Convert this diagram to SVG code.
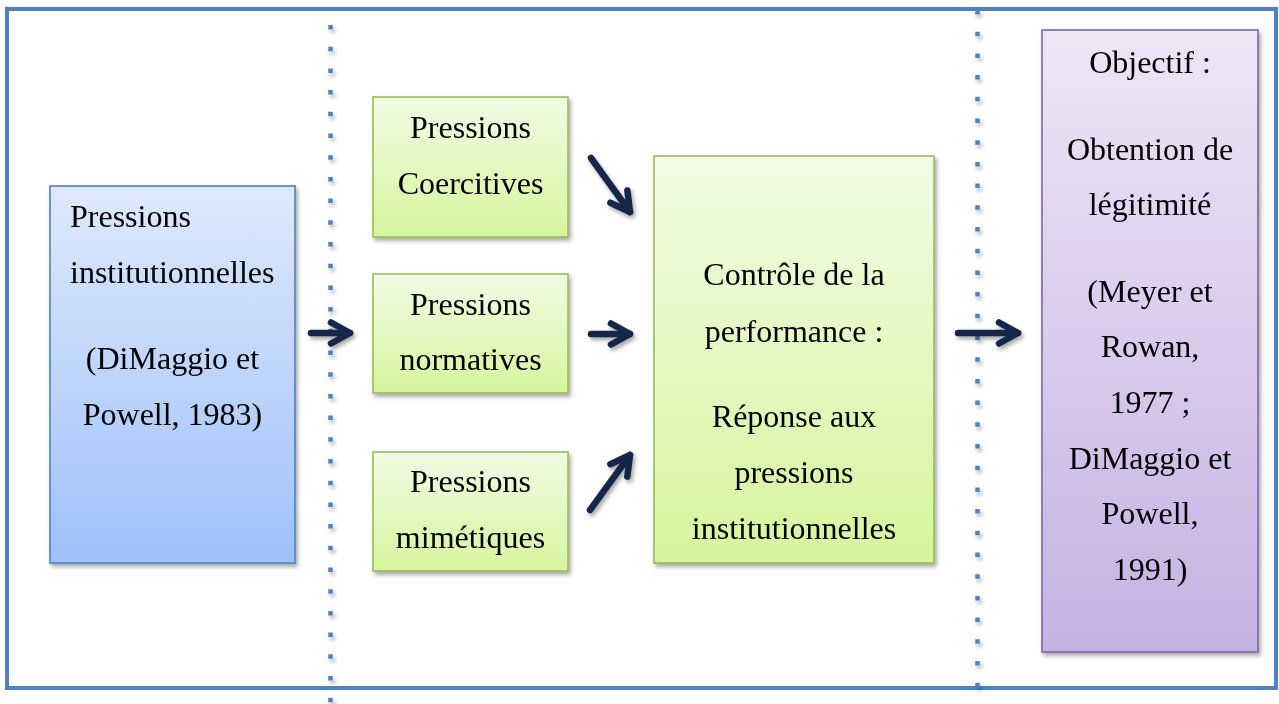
<svg xmlns="http://www.w3.org/2000/svg" width="1279" height="704" viewBox="0 0 1279 704">
<style>
  text { font-family: "Liberation Serif", "Times New Roman", serif; font-size: 32px; fill: #000; }
  .c { text-anchor: middle; }
  .box { stroke-width: 1.6; }
  .arrow { fill: none; stroke: #14284a; stroke-width: 6.5; stroke-linecap: round; stroke-linejoin: round; }
  .dots { fill: none; stroke: #4f81bd; stroke-width: 4.5; stroke-dasharray: 4.5 17.2; }
</style>
<defs>
  <linearGradient id="gBlue" x1="0" y1="0" x2="0" y2="1">
    <stop offset="0" stop-color="#dee9fc"/>
    <stop offset="1" stop-color="#9ec1fa"/>
  </linearGradient>
  <linearGradient id="gGreen" x1="0" y1="0" x2="0" y2="1">
    <stop offset="0" stop-color="#f1fbe4"/>
    <stop offset="1" stop-color="#d6f59d"/>
  </linearGradient>
  <linearGradient id="gPurple" x1="0" y1="0" x2="0" y2="1">
    <stop offset="0" stop-color="#ede6f6"/>
    <stop offset="1" stop-color="#c5b1e3"/>
  </linearGradient>
  <filter id="sh" x="-10%" y="-10%" width="130%" height="130%">
    <feGaussianBlur in="SourceAlpha" stdDeviation="2"/>
    <feOffset dx="2" dy="3" result="b"/>
    <feComponentTransfer><feFuncA type="linear" slope="0.35"/></feComponentTransfer>
    <feMerge><feMergeNode/><feMergeNode in="SourceGraphic"/></feMerge>
  </filter>
  <marker id="head" markerUnits="userSpaceOnUse" markerWidth="60" markerHeight="60" viewBox="-30 -30 60 60" refX="0" refY="0" orient="auto" overflow="visible">
    <path d="M-19,-10.5 L0,0 L-19,10.5" fill="none" stroke="#14284a" stroke-width="6.5" stroke-linecap="round" stroke-linejoin="round"/>
  </marker>
</defs>

<g id="frame">
  <rect x="7" y="9" width="1269" height="679" fill="#fff" stroke="#4f81bd" stroke-width="4"/>
</g>

<g id="separators" filter="url(#sh)">
  <line class="dots" x1="330.5" y1="25" x2="330.5" y2="704"/>
  <line class="dots" x1="977.5" y1="10" x2="977.5" y2="692"/>
</g>

<g id="node-institutionnelles" filter="url(#sh)">
  <rect class="box" x="50" y="186" width="245" height="377" fill="url(#gBlue)" stroke="#4f81bd"/>
  <text x="70" y="227">Pressions</text>
  <text x="70" y="283">institutionnelles</text>
  <text class="c" x="172.5" y="369">(DiMaggio et</text>
  <text class="c" x="172.5" y="425">Powell, 1983)</text>
</g>

<g id="node-coercitives" filter="url(#sh)">
  <rect class="box" x="373" y="97" width="195" height="140" fill="url(#gGreen)" stroke="#9bbb59"/>
  <text class="c" x="470.5" y="138">Pressions</text>
  <text class="c" x="470.5" y="194">Coercitives</text>
</g>

<g id="node-normatives" filter="url(#sh)">
  <rect class="box" x="373" y="274" width="195" height="119" fill="url(#gGreen)" stroke="#9bbb59"/>
  <text class="c" x="470.5" y="315">Pressions</text>
  <text class="c" x="470.5" y="370">normatives</text>
</g>

<g id="node-mimetiques" filter="url(#sh)">
  <rect class="box" x="373" y="452" width="195" height="119" fill="url(#gGreen)" stroke="#9bbb59"/>
  <text class="c" x="470.5" y="492">Pressions</text>
  <text class="c" x="470.5" y="548">mimétiques</text>
</g>

<g id="node-controle" filter="url(#sh)">
  <rect class="box" x="654" y="156" width="280" height="407" fill="url(#gGreen)" stroke="#9bbb59"/>
  <text class="c" x="794" y="285">Contrôle de la</text>
  <text class="c" x="794" y="342">performance :</text>
  <text class="c" x="794" y="427">Réponse aux</text>
  <text class="c" x="794" y="483">pressions</text>
  <text class="c" x="794" y="539">institutionnelles</text>
</g>

<g id="node-objectif" filter="url(#sh)">
  <rect class="box" x="1042" y="30" width="216" height="622" fill="url(#gPurple)" stroke="#8064a2"/>
  <text class="c" x="1150" y="73">Objectif :</text>
  <text class="c" x="1150" y="160">Obtention de</text>
  <text class="c" x="1150" y="215">légitimité</text>
  <text class="c" x="1150" y="302">(Meyer et</text>
  <text class="c" x="1150" y="357">Rowan,</text>
  <text class="c" x="1150" y="413">1977 ;</text>
  <text class="c" x="1150" y="469">DiMaggio et</text>
  <text class="c" x="1150" y="524">Powell,</text>
  <text class="c" x="1150" y="580">1991)</text>
</g>

<g id="connectors" filter="url(#sh)">
  <path class="arrow" d="M311,333 L350,333" marker-end="url(#head)"/>
  <path class="arrow" d="M591,158 L630,212" marker-end="url(#head)"/>
  <path class="arrow" d="M591,334 L630,334" marker-end="url(#head)"/>
  <path class="arrow" d="M590,510 L630,455" marker-end="url(#head)"/>
  <path class="arrow" d="M958,333 L1018,333" marker-end="url(#head)"/>
</g>
</svg>
